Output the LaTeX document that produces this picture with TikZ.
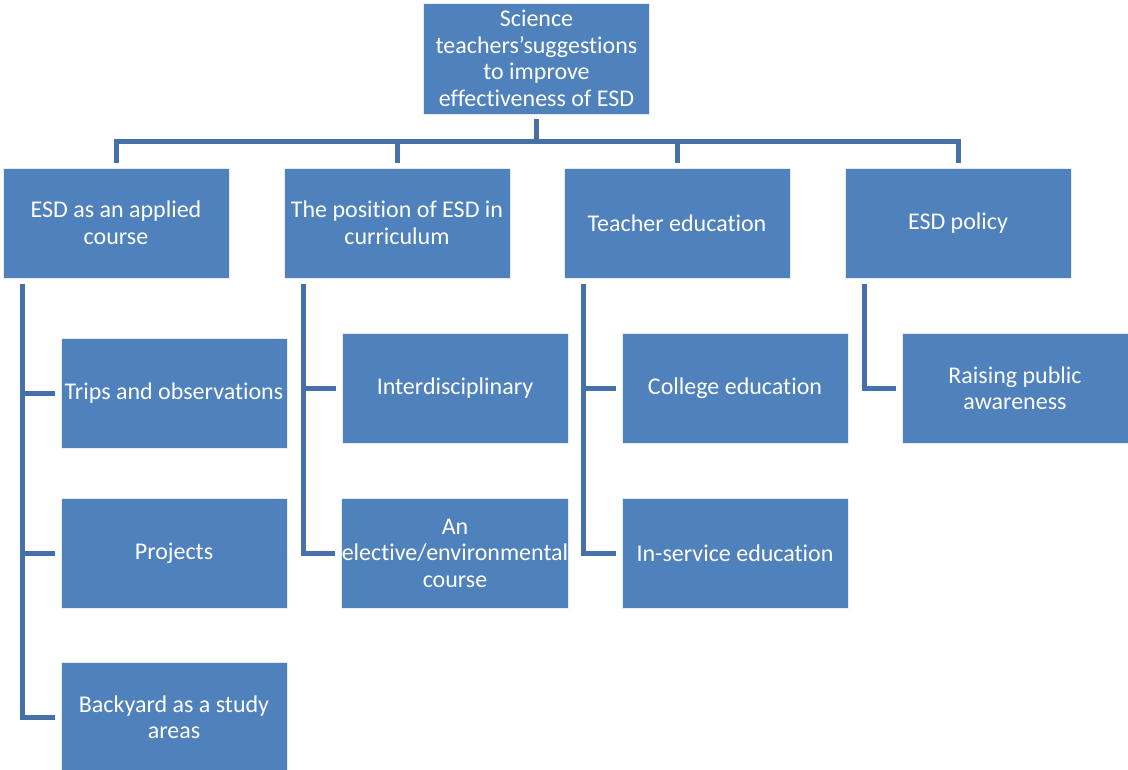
\documentclass[tikz,border=0pt]{standalone}
\usepackage{fontspec}
\setmainfont[Ligatures=NoCommon]{Carlito}
\usepackage{xcolor}
\usepackage{tikz}
\usetikzlibrary{positioning}

\definecolor{esdblue}{RGB}{79,129,189}
\definecolor{esdline}{RGB}{70,113,168}

\begin{document}
\begin{tikzpicture}[
    x=1pt, y=1pt,
    box/.style={draw=white!85!esdblue, line width=0.6pt, fill=esdblue, text=white,
      minimum width=226pt, minimum height=110pt, inner sep=0pt, align=center,
      font=\fontsize{24}{26.5}\selectfont},
    conn/.style={draw=esdline, line width=5pt}
  ]
    \useasboundingbox (0,0) rectangle (1128,-769);

    % Root
    \node[box, minimum height=111pt] (root) at (536.5,-58.5) {Science\\teachers’suggestions\\to improve\\effectiveness of ESD};

    % Level 1 boxes - arranged horizontally
    \node[box] (applied) at (116,-223) {ESD as an applied\\course};
    \node[box] (position) at (397,-223) {The position of ESD in\\curriculum};
    \node[box] (teacher) at (677,-223) {Teacher education};
    \node[box] (policy) at (958,-223) {ESD policy};

    % Level 2 boxes
    \node[box] (trips) at (174,-393) {Trips and observations};
    \node[box] (projects) at (174,-553) {Projects};
    \node[box] (backyard) at (174,-717) {Backyard as a study\\areas};

    \node[box] (inter) at (455,-388) {Interdisciplinary};
    \node[box] (elective) at (455,-553) {An\\elective/environmental\\course};

    \node[box] (college) at (735,-388) {College education};
    \node[box] (inservice) at (735,-553) {In-service education};

    \node[box] (public) at (1015,-388) {Raising public\\awareness};

    % Connectors from the root
    \coordinate (bar) at (0,-141);
    \draw[conn] ([yshift=-5pt]root.south) -- (root.south |- bar);
    \draw[conn] ([yshift=5pt]applied.north) -- (applied.north |- bar) -- (policy.north |- bar) -- ([yshift=5pt]policy.north);
    \draw[conn] (position.north |- bar) -- ([yshift=5pt]position.north);
    \draw[conn] (teacher.north |- bar) -- ([yshift=5pt]teacher.north);

    % Spines
    \coordinate (s1) at ([shift={(20pt,-6pt)}]applied.south west);
    \coordinate (s2) at ([shift={(20pt,-6pt)}]position.south west);
    \coordinate (s3) at ([shift={(20pt,-6pt)}]teacher.south west);
    \coordinate (s4) at ([shift={(20pt,-6pt)}]policy.south west);

    % Connectors to level 2
    \draw[conn] (s1) |- ([xshift=-6pt]backyard.west);
    \draw[conn] (s1 |- trips.west) -- ([xshift=-6pt]trips.west);
    \draw[conn] (s1 |- projects.west) -- ([xshift=-6pt]projects.west);

    \draw[conn] (s2) |- ([xshift=-6pt]elective.west);
    \draw[conn] (s2 |- inter.west) -- ([xshift=-6pt]inter.west);

    \draw[conn] (s3) |- ([xshift=-6pt]inservice.west);
    \draw[conn] (s3 |- college.west) -- ([xshift=-6pt]college.west);

    \draw[conn] (s4) |- ([xshift=-6pt]public.west);

  \end{tikzpicture}
\end{document}
